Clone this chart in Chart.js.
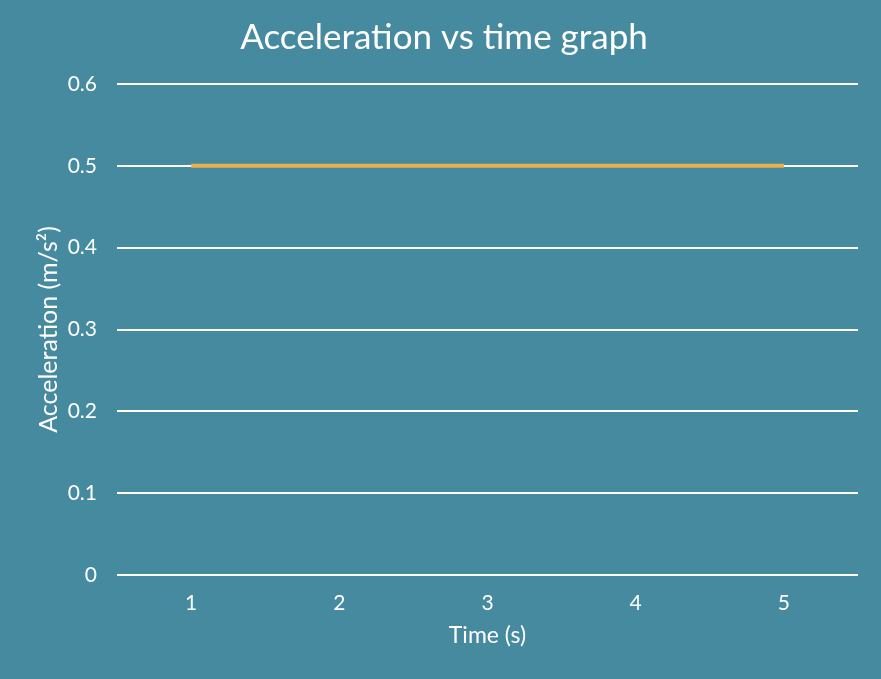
<!DOCTYPE html>
<html>
<head>
<meta charset="utf-8">
<script src="https://cdn.jsdelivr.net/npm/chart.js@4"></script>
<style>
  body { margin: 0; background: #468a9f; }
  #wrap { width: 881px; height: 679px; }
</style>
</head>
<body>
<div id="wrap"><canvas id="accelChart" width="881" height="679"></canvas></div>
<script>
(() => {
  'use strict'

  const times = ['1', '2', '3', '4', '5']
  const acceleration = [0.5, 0.5, 0.5, 0.5, 0.5]
  const yTicks = [0, 0.1, 0.2, 0.3, 0.4, 0.5, 0.6]

  const fontFamily = 'Lato, "Open Sans", sans-serif'

  const bgPlugin = {
    id: 'bg',
    beforeDraw (chart) {
      const c = chart.ctx
      c.save()
      c.fillStyle = '#468a9f'
      c.fillRect(0, 0, chart.width, chart.height)
      c.restore()
    }
  }

  const ctx = document.getElementById('accelChart')
  // eslint-disable-next-line no-unused-vars
  const accelChart = new Chart(ctx, {
    type: 'line',
    data: {
      labels: times,
      datasets: [
        {
          label: 'Acceleration',
          data: acceleration,
          borderColor: '#e8b04f',
          borderWidth: 4,
          pointRadius: 0,
          fill: false
        }
      ]
    },
    options: {
      responsive: false,
      animation: false,
      layout: {
        padding: { left: 30, right: 23, top: 0, bottom: 26 }
      },
      plugins: {
        legend: { display: false },
        tooltip: { enabled: false },
        title: {
          display: true,
          text: 'Acceleration vs time graph',
          color: '#fff',
          font: { family: fontFamily, size: 35, weight: 'normal' },
          padding: { top: 17, bottom: 25 }
        }
      },
      scales: {
        x: {
          offset: true,
          grid: { display: false, drawTicks: false },
          border: { display: false },
          ticks: {
            color: '#fff',
            padding: 16,
            font: { family: fontFamily, size: 21 }
          },
          title: {
            display: true,
            text: 'Time (s)',
            color: '#fff',
            padding: { top: 6 },
            font: { family: fontFamily, size: 23 }
          },
          afterFit (axis) { axis.height = 78 }
        },
        y: {
          min: 0,
          max: 0.6,
          afterBuildTicks (axis) {
            axis.ticks = yTicks.map(v => ({ value: v }))
          },
          grid: { color: '#fff', lineWidth: 2, drawTicks: false },
          border: { display: false },
          ticks: {
            color: '#fff',
            padding: 20,
            font: { family: fontFamily, size: 21 },
            callback: v => String(v)
          },
          title: {
            display: true,
            text: 'Acceleration (m/s²)',
            color: '#fff',
            padding: { bottom: 3 },
            font: { family: fontFamily, size: 25 }
          },
          afterFit (axis) { axis.width = 87 }
        }
      }
    },
    plugins: [bgPlugin]
  })
})()
</script>
</body>
</html>
